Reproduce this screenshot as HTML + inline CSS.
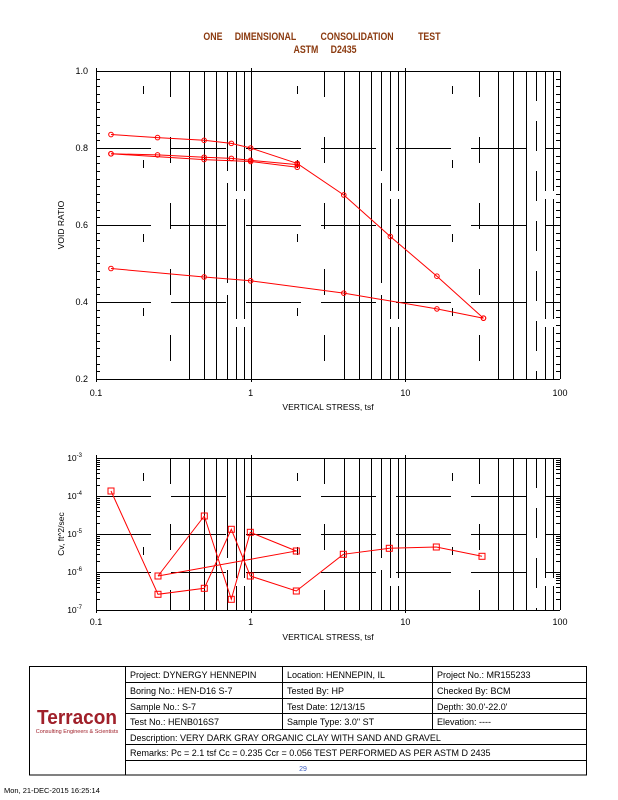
<!DOCTYPE html>
<html><head><meta charset="utf-8"><style>
html,body{margin:0;padding:0;background:#fff;}
body{width:618px;height:800px;position:relative;overflow:hidden;font-family:"Liberation Sans",sans-serif;}
svg{position:absolute;left:0;top:0;}
</style></head><body>
<svg id="s" width="618" height="800" xmlns="http://www.w3.org/2000/svg" font-family="Liberation Sans, sans-serif"></svg>
<script>
const S=document.getElementById('s');let h='';
const X0=96,DEC=154.67;
function lx(p){return X0+DEC*Math.log10(p/0.1);}
function r(v){return Math.round(v)+0.5;}
function L(x1,y1,x2,y2,c,w,d){h+=`<line x1="${x1}" y1="${y1}" x2="${x2}" y2="${y2}" stroke="${c||'#000'}" stroke-width="${w||1}"${d?` stroke-dasharray="${d}"`:''} shape-rendering="crispEdges"/>`;}
function T(x,y,t,sz,a,extra){h+=`<text x="${x}" y="${y}" font-size="${sz||9}" text-anchor="${a||'start'}" ${extra||''}>${t}</text>`;}
h+=`<text x="322" y="40" font-size="11" font-weight="bold" fill="#8b3a0f" text-anchor="middle" transform="translate(322 0) scale(0.8 1) translate(-322 0)" xml:space="preserve">ONE     DIMENSIONAL          CONSOLIDATION          TEST</text>`;
h+=`<text x="325" y="53" font-size="11" font-weight="bold" fill="#8b3a0f" text-anchor="middle" transform="translate(325 0) scale(0.8 1) translate(-325 0)" xml:space="preserve">ASTM     D2435</text>`;
function grid(top,bot,hy){
  for(let d=0;d<3;d++){const b=0.1*Math.pow(10,d);
    for(let m=2;m<=9;m++){const x=r(lx(b*m));
      if(m==2)L(x,top+15,x,bot,'#000',1,'8 66');
      else if(m==3)L(x,top,x,bot,'#000',1,'26 40');
      else if(m<=6)L(x,top,x,bot);
      else if(m==7)L(x,top,x,bot,'#000',1,(d==2?'30 20':'100 12'));
      else L(x,top,x,bot,'#000',1,'120 8');
    }
    L(r(lx(b)),top-3,r(lx(b)),bot+3);
  }
  hy.forEach(y=>L(X0,r(y),560,r(y),'#000',1,'55 20'));
  L(X0,r(top),560,r(top));L(X0,r(bot),560,r(bot));L(r(X0),top,r(X0),bot);L(r(560),top,r(560),bot);
}
const T0=71,T1=379;function ey(e){return T0+(1-e)*385;}
grid(T0,T1,[ey(0.8),ey(0.6),ey(0.4)]);
for(let e=0.2;e<=1.001;e+=0.02){const y=r(ey(e));L(X0,y,X0+4,y);L(556,y,560,y);}
[[1,'1.0'],[0.8,'0.8'],[0.6,'0.6'],[0.4,'0.4'],[0.2,'0.2']].forEach(([e,t])=>T(88,ey(e)+3,t,9,'end'));
[[0.1,'0.1'],[1,'1'],[10,'10'],[100,'100']].forEach(([p,t])=>T(lx(p),396,t,9,'middle'));
T(328,410,'VERTICAL STRESS, tsf',8.5,'middle');
h+=`<text x="64" y="225" font-size="8.5" text-anchor="middle" transform="rotate(-90 64 225)">VOID RATIO</text>`;
function ser(pts,mk){let d=pts.map((p,i)=>(i?'L':'M')+p[0].toFixed(1)+' '+p[1].toFixed(1)).join(' ');
  h+=`<path d="${d}" fill="none" stroke="#f00" stroke-width="1"/>`;
  pts.forEach(p=>{ if(mk=='c')h+=`<circle cx="${p[0]}" cy="${p[1]}" r="2.3" fill="none" stroke="#f00"/>`;
    else h+=`<rect x="${p[0]-3}" y="${p[1]-3}" width="6" height="6" fill="none" stroke="#f00"/>`;});}
const P=(p,e)=>[lx(p),ey(e)];
ser([P(0.125,0.835),P(0.25,0.827),P(0.5,0.82),P(0.75,0.812),P(1,0.80),P(2,0.76),P(4,0.678),P(8,0.57),P(16,0.467),P(32,0.358)],'c');
ser([P(32,0.358),P(16,0.382),P(4,0.423),P(1,0.455),P(0.5,0.465),P(0.125,0.487)],'c');
ser([P(0.125,0.785),P(0.25,0.782),P(0.5,0.776),P(0.75,0.773),P(1,0.768),P(2,0.757)],'c');
ser([P(0.125,0.785),P(0.5,0.770),P(1,0.765),P(2,0.750)],'c');
const B0=458,B1=610;function cy(lg){return B0+(-3-lg)*38;}
grid(B0,B1,[cy(-4),cy(-5),cy(-6)]);
for(let d=-7;d<-3;d++)for(let m=2;m<=9;m++){const y=r(cy(d+Math.log10(m)));L(X0,y,X0+4,y);L(556,y,560,y);}
[-3,-4,-5,-6,-7].forEach(d=>{h+=`<text x="82" y="${cy(d)+3}" font-size="8.5" text-anchor="end">10<tspan dy="-4" font-size="6">${d}</tspan></text>`;});
[[0.1,'0.1'],[1,'1'],[10,'10'],[100,'100']].forEach(([p,t])=>T(lx(p),625,t,9,'middle'));
T(328,640,'VERTICAL STRESS, tsf',8.5,'middle');
h+=`<text x="64" y="534" font-size="8.5" text-anchor="middle" transform="rotate(-90 64 534)">Cv,  ft^2/sec</text>`;
ser([[111,491],[158,594.3],[204.3,588.3],[231.3,529.3],[250.3,576],[296.3,591],[343.3,554.3],[389.3,548.3],[436.3,547],[482,556.3]],'s');
ser([[158,576],[204.3,516],[231.3,599.3],[250.3,532.3],[296.3,551],[158,576]],'s');
const ys=[666,682,698,713,729,744,760,775];
h+=`<rect x="29.5" y="666.5" width="557" height="108.5" fill="none" stroke="#000"/>`;
L(125.5,666,125.5,775);
ys.slice(1,7).forEach(y=>L(125,y+0.5,587,y+0.5));
[282.5,432.5].forEach(x=>L(x,666,x,729));
const rows=[['Project: DYNERGY HENNEPIN','Location: HENNEPIN, IL','Project No.: MR155233'],['Boring No.: HEN-D16 S-7','Tested By: HP','Checked By: BCM'],['Sample No.: S-7','Test Date: 12/13/15','Depth: 30.0\'-22.0\''],['Test No.: HENB016S7','Sample Type: 3.0" ST','Elevation: ----']];
rows.forEach((rw,i)=>{const y=ys[i]+12;T(130,y,rw[0],9);T(287,y,rw[1],9);T(437,y,rw[2],9);});
T(130,ys[4]+12,'Description: VERY DARK GRAY ORGANIC CLAY WITH SAND AND GRAVEL',9);
T(130,ys[5]+12,'Remarks: Pc = 2.1 tsf Cc = 0.235 Ccr = 0.056 TEST PERFORMED AS PER ASTM D 2435',9);
T(303,ys[6]+11,'29',7,'middle','fill="#4060c0"');
h+=`<text x="77" y="724" font-size="20" font-weight="bold" fill="#a0202a" text-anchor="middle" transform="translate(77 0) scale(0.95 1) translate(-77 0)">Terracon</text>`;
T(77,733,'Consulting Engineers &amp; Scientists',5.5,'middle','fill="#a0202a"');
T(4,793,'Mon, 21-DEC-2015 16:25:14',7.5);
S.innerHTML=h;
</script>
</body></html>
